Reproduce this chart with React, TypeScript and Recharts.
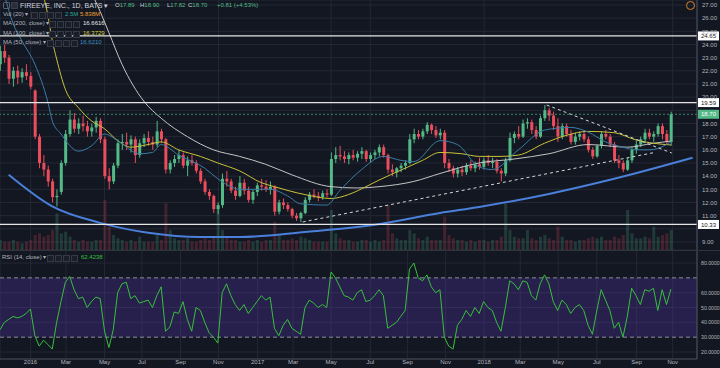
import React from 'react';
import { ComposedChart, Bar, Line, XAxis, YAxis, CartesianGrid, ReferenceLine, ReferenceArea } from 'recharts';

// weekly candles from the week of 2015-11-16: [open, high, low, close]
const candles: number[][] = [
  [22.5, 23.9, 22.0, 23.5], [23.5, 24.0, 22.6, 23.0], [23.0, 23.2, 21.0, 21.4], [21.4, 22.3, 20.8, 22.0],
  [22.0, 22.4, 21.0, 21.5], [21.5, 22.2, 21.1, 21.9], [21.9, 22.5, 21.3, 21.6], [21.6, 21.9, 20.6, 20.8],
  [20.5, 20.6, 16.8, 17.0], [17.0, 17.2, 14.6, 15.0], [15.0, 15.6, 14.0, 14.5], [14.5, 14.8, 13.2, 13.6],
  [13.6, 13.8, 12.0, 12.4], [12.4, 13.0, 11.7, 12.5], [12.8, 15.2, 12.6, 15.0], [15.0, 17.5, 14.8, 17.2],
  [17.2, 19.0, 17.0, 18.3], [18.3, 18.8, 17.3, 17.6], [17.6, 18.4, 17.2, 18.0], [18.0, 18.6, 17.4, 17.8],
  [17.8, 18.2, 17.0, 17.4], [17.4, 18.0, 17.0, 17.7], [17.7, 18.5, 17.3, 18.2], [18.2, 18.4, 16.5, 16.8],
  [16.8, 17.0, 13.8, 14.0], [14.0, 14.6, 13.0, 13.6], [13.6, 15.0, 13.4, 14.8], [14.8, 16.8, 14.6, 16.5],
  [16.5, 17.2, 16.0, 16.6], [16.6, 17.3, 16.0, 16.4], [16.4, 17.1, 15.8, 16.8], [16.8, 17.0, 15.0, 15.6],
  [15.6, 16.8, 15.4, 16.5], [16.5, 17.2, 16.2, 16.9], [16.9, 17.4, 16.3, 16.6], [16.6, 17.0, 16.0, 16.4],
  [16.4, 18.2, 16.2, 17.4], [17.4, 17.6, 16.5, 16.8], [16.8, 16.9, 14.2, 14.5], [14.5, 15.2, 14.2, 15.0],
  [15.0, 15.6, 14.7, 15.3], [15.3, 16.0, 15.0, 15.6], [15.6, 15.8, 14.6, 14.8], [14.8, 15.5, 14.0, 15.2],
  [15.2, 15.6, 14.8, 15.0], [15.0, 15.2, 14.2, 14.4], [14.4, 14.6, 13.4, 13.6], [13.6, 13.8, 12.6, 12.8],
  [12.8, 13.0, 12.2, 12.5], [12.5, 12.6, 11.2, 11.5], [11.5, 12.0, 11.1, 11.8], [11.8, 14.2, 11.6, 13.8],
  [13.8, 14.4, 13.2, 13.6], [13.6, 13.8, 12.7, 12.9], [12.9, 13.2, 12.2, 12.5], [12.5, 14.0, 12.4, 13.5],
  [13.5, 13.8, 12.6, 12.9], [12.9, 13.2, 12.0, 12.2], [12.2, 13.0, 11.9, 12.8], [12.8, 13.5, 12.5, 13.3],
  [13.3, 13.8, 12.9, 13.2], [13.2, 13.7, 12.8, 13.0], [13.0, 13.6, 12.6, 13.2], [13.2, 13.3, 11.0, 11.3],
  [11.3, 12.2, 11.1, 12.0], [12.0, 12.3, 11.5, 11.8], [11.8, 12.0, 11.3, 11.5], [11.5, 11.6, 10.8, 11.0],
  [11.0, 11.2, 10.6, 10.8], [10.8, 11.3, 10.5, 11.2], [11.2, 12.4, 11.1, 12.2], [12.2, 12.8, 12.0, 12.6],
  [12.6, 13.0, 12.3, 12.5], [12.5, 12.8, 12.1, 12.4], [12.4, 12.9, 12.2, 12.7], [12.7, 13.0, 12.4, 12.6],
  [12.6, 15.8, 12.5, 15.3], [15.3, 16.2, 15.0, 15.6], [15.6, 16.3, 15.2, 15.5], [15.5, 15.9, 15.0, 15.3],
  [15.3, 15.8, 14.9, 15.6], [15.6, 16.0, 15.2, 15.4], [15.4, 15.9, 15.1, 15.7], [15.7, 16.2, 15.3, 15.9],
  [15.9, 16.0, 15.1, 15.3], [15.3, 15.8, 15.0, 15.6], [15.6, 16.0, 15.3, 15.8], [15.8, 16.4, 15.5, 16.2],
  [16.2, 16.4, 15.4, 15.6], [15.6, 15.7, 14.2, 14.5], [14.5, 14.9, 14.0, 14.3], [14.3, 14.7, 13.9, 14.6],
  [14.6, 15.0, 14.3, 14.8], [14.8, 15.2, 14.5, 15.0], [15.0, 17.2, 14.9, 16.8], [16.8, 17.6, 16.5, 17.2],
  [17.2, 17.5, 16.8, 17.0], [17.0, 17.6, 16.8, 17.4], [17.4, 18.1, 17.2, 17.9], [17.9, 18.0, 17.2, 17.5],
  [17.5, 17.8, 16.9, 17.1], [17.1, 17.6, 16.8, 17.3], [17.3, 17.5, 14.6, 15.0], [15.0, 15.3, 14.3, 14.6],
  [14.6, 14.8, 13.9, 14.2], [14.2, 14.7, 13.9, 14.5], [14.5, 14.8, 14.0, 14.3], [14.3, 15.0, 14.1, 14.8],
  [14.8, 15.2, 14.4, 14.6], [14.6, 15.1, 14.3, 14.9], [14.9, 15.4, 14.5, 14.7], [14.7, 15.4, 14.5, 15.2],
  [15.2, 15.6, 14.8, 15.0], [15.0, 15.4, 14.6, 15.1], [15.1, 15.3, 14.2, 14.4], [14.4, 14.6, 13.6, 14.2],
  [14.2, 15.4, 14.0, 15.2], [15.2, 17.3, 15.1, 16.9], [16.9, 17.4, 16.5, 17.2], [17.2, 17.8, 16.8, 17.0],
  [17.0, 18.3, 16.9, 18.0], [18.0, 18.4, 17.6, 18.1], [18.1, 18.3, 17.2, 17.5], [17.5, 17.8, 16.8, 17.0],
  [17.0, 18.6, 16.9, 18.4], [18.4, 19.4, 18.2, 19.0], [19.0, 19.2, 18.2, 18.6], [18.6, 18.9, 17.5, 17.8],
  [17.8, 18.4, 16.6, 17.0], [17.0, 18.0, 16.8, 17.8], [17.8, 18.0, 17.0, 17.2], [17.2, 17.5, 16.4, 16.6],
  [16.6, 17.3, 16.4, 17.0], [17.0, 17.4, 16.7, 17.2], [17.2, 17.5, 16.6, 16.8], [16.8, 17.0, 15.8, 16.0],
  [16.0, 16.2, 15.3, 15.5], [15.5, 16.4, 15.4, 16.3], [16.3, 17.4, 16.1, 17.2], [17.2, 17.5, 16.8, 17.0],
  [17.0, 17.2, 16.2, 16.4], [16.4, 16.6, 15.0, 15.2], [15.2, 15.6, 14.6, 15.0], [15.0, 15.2, 14.3, 14.5],
  [14.5, 15.4, 14.4, 15.2], [15.2, 16.2, 15.0, 16.0], [16.0, 16.7, 15.7, 16.4], [16.4, 17.0, 16.2, 16.8],
  [16.8, 17.6, 16.5, 17.3], [17.3, 17.6, 16.8, 17.0], [17.0, 17.4, 16.6, 17.2], [17.2, 18.0, 17.0, 17.8],
  [17.8, 18.0, 16.8, 17.2], [17.2, 17.5, 16.4, 16.6], [16.6, 18.9, 16.3, 18.7],
];

// weekly volume, millions
const volume = [
  6, 5, 5, 6, 5, 4, 5, 6, 9, 10, 8, 9, 12, 22, 10, 11,
  8, 6, 5, 6, 5, 5, 6, 6, 30, 14, 9, 7, 6, 5, 6, 5,
  8, 5, 5, 5, 9, 6, 28, 12, 7, 6, 6, 7, 5, 5, 6, 7,
  6, 8, 26, 12, 8, 6, 6, 5, 5, 6, 5, 6, 5, 6, 6, 17,
  9, 6, 6, 7, 6, 8, 7, 6, 5, 5, 5, 5, 24, 10, 7, 6,
  6, 5, 5, 6, 6, 5, 6, 5, 6, 27, 10, 7, 6, 6, 12, 10,
  7, 6, 8, 6, 6, 6, 20, 9, 7, 6, 6, 5, 6, 5, 6, 6,
  5, 6, 6, 8, 28, 12, 8, 7, 7, 12, 7, 6, 8, 9, 7, 6,
  14, 8, 6, 6, 5, 6, 6, 7, 8, 7, 8, 6, 6, 8, 7, 9,
  24, 10, 7, 7, 8, 7, 14, 8, 9, 10, 12,
];

// weekly RSI(14)
const rsi = [
  35, 40, 42, 44, 43, 44, 46, 49, 31, 24, 28, 25, 22, 40, 54, 67,
  71, 62, 56, 57, 50, 54, 57, 56, 34, 23, 35, 60, 66, 67, 56, 58,
  53, 54, 55, 50, 58, 64, 34, 37, 47, 46, 54, 42, 34, 50, 48, 40,
  33, 30, 26, 60, 66, 58, 52, 48, 52, 46, 50, 54, 58, 55, 57, 36,
  31, 38, 42, 36, 34, 32, 50, 55, 53, 50, 52, 50, 74, 70, 64, 58,
  57, 55, 60, 62, 54, 55, 58, 62, 58, 36, 38, 40, 44, 48, 76, 80,
  70, 68, 72, 64, 60, 62, 30, 24, 22, 38, 42, 48, 44, 50, 46, 54,
  50, 48, 40, 34, 50, 68, 66, 62, 68, 67, 58, 55, 66, 72, 66, 54,
  48, 55, 52, 46, 50, 52, 48, 38, 32, 48, 62, 55, 48, 36, 40, 30,
  44, 63, 58, 52, 62, 61, 63, 48, 62, 52, 62.42,
];

// moving averages and the drawn arc, [week, value]
const ma200: number[][] = [
  [20, 28.6], [23, 26.5], [25, 24.9], [28, 22.5], [33, 19.7], [37, 18.4], [43, 17.0], [49, 16.0],
  [55, 15.5], [61, 14.9], [67, 14.1], [76, 13.2], [82, 13.1], [87, 13.2], [95, 13.6], [101, 14.2],
  [110, 15.0], [118, 15.3], [126, 15.7], [135, 16.4], [144, 16.2], [150, 16.5], [154, 16.66],
];
const ma100: number[][] = [
  [9, 28.8], [11, 26.2], [12, 24.3], [13, 22.9], [15, 20.6], [18, 19.2], [21, 18.2], [24, 17.6],
  [27, 16.7], [30, 16.2], [34, 16.4], [37, 16.6], [41, 16.0], [46, 15.5], [50, 15.0], [55, 14.4],
  [60, 13.5], [63, 13.2], [70, 12.6], [76, 12.3], [80, 12.6], [84, 13.2], [87, 13.7], [93, 14.6],
  [97, 15.2], [101, 15.8], [106, 15.7], [110, 15.5], [115, 15.5], [119, 15.6], [125, 16.5], [130, 17.1],
  [135, 17.4], [141, 17.3], [146, 16.75], [150, 16.5], [154, 16.37],
];
const ma50: number[][] = [
  [1, 27.8], [3, 25.6], [5, 24.3], [8, 22.5], [11, 19.6], [12, 18.2], [14, 17.2], [18, 15.9],
  [21, 16.3], [24, 17.2], [27, 16.7], [32, 15.7], [35, 15.8], [37, 16.4], [41, 15.6], [47, 14.6],
  [50, 13.8], [53, 13.2], [55, 13.0], [62, 13.0], [66, 12.5], [69, 11.9], [75, 11.8], [78, 12.9],
  [83, 14.5], [88, 15.5], [92, 15.2], [95, 15.1], [101, 16.7], [105, 16.4], [110, 14.7], [113, 14.5],
  [119, 16.0], [125, 17.5], [131, 17.7], [135, 17.35], [139, 16.6], [143, 16.2], [146, 16.0], [149, 16.0],
  [153, 16.4], [154, 16.62],
];
const arc: number[][] = [
  [2, 14.1], [12, 11.7], [23, 10.45], [34, 9.7], [46, 9.38], [55, 9.38], [70, 9.76], [86, 10.3],
  [101, 11.2], [110, 11.66], [126, 12.65], [141, 13.8], [159, 15.4],
];

const supportLine = [[69.5, 10.52], [150.3, 15.8]];
const resistanceLine = [[125.5, 19.4], [154.2, 15.76]];
const levels = [24.65, 19.59, 10.33];
const lastClose = 18.7;

const monthDates = [
  '2016-01-04', '2016-03-01', '2016-05-02', '2016-07-01', '2016-09-01', '2016-11-01',
  '2017-01-03', '2017-03-01', '2017-05-01', '2017-07-03', '2017-09-01', '2017-11-01',
  '2018-01-02', '2018-03-01', '2018-05-01', '2018-07-02', '2018-09-04', '2018-11-01',
];
const monthLabels = ['2016', 'Mar', 'May', 'Jul', 'Sep', 'Nov', '2017', 'Mar', 'May', 'Jul', 'Sep', 'Nov', '2018', 'Mar', 'May', 'Jul', 'Sep', 'Nov'];

const START = Date.UTC(2015, 10, 16);
const toWeek = (d: string) => (Date.parse(d) - START) / (7 * 86400000);
const monthTicks = monthDates.map(toWeek);
const labelOf = (w: number) => monthLabels[monthTicks.findIndex((t) => Math.abs(t - w) < 0.01)] ?? '';

const N_WEEKS = 160;
const X_DOMAIN: [number, number] = [0, 160];
const priceTicks = [9, 10, 11, 12, 13, 14, 15, 16, 17, 18, 19, 20, 21, 22, 23, 24, 25, 26, 27];
const rsiTicks = [20, 30, 40, 50, 60, 80];

const BG = '#131722';
const GRID = '#242834';
const AXIS_TXT = '#b2b5be';
const UP = '#53b987';
const DOWN = '#eb4d5c';

const fromPairs = (pairs: number[][]) => {
  const m: Record<number, number> = {};
  pairs.forEach(([w, v]) => (m[w] = v));
  return m;
};
const m200 = fromPairs(ma200);
const m100 = fromPairs(ma100);
const m50 = fromPairs(ma50);
const mArc = fromPairs(arc);

const rows = Array.from({ length: N_WEEKS }, (_, w) => {
  const c = candles[w];
  return {
    w,
    range: c ? [c[2], c[1]] : undefined,
    o: c ? c[0] : undefined,
    h: c ? c[1] : undefined,
    l: c ? c[2] : undefined,
    c: c ? c[3] : undefined,
    vol: c ? volume[w] : undefined,
    ma200: m200[w],
    ma100: m100[w],
    ma50: m50[w],
    arc: mArc[w],
    rsi: rsi[w],
  };
});

const Candle = (props: any) => {
  const { x, y, width, height, payload } = props;
  if (!payload || payload.o == null) return null;
  const { o, h, l, c } = payload;
  const color = c >= o ? UP : DOWN;
  const top = Math.min(y, y + height);
  const hh = Math.abs(height);
  const span = h - l || 1;
  const py = (v: number) => top + ((h - v) / span) * hh;
  const bTop = py(Math.max(o, c));
  const bBot = py(Math.min(o, c));
  const cx = x + width / 2;
  return (
    <g>
      <line x1={cx} x2={cx} y1={top} y2={top + hh} stroke={color} strokeWidth={1} />
      <rect x={x} y={bTop} width={width} height={Math.max(1, bBot - bTop)} fill={color} />
    </g>
  );
};

const VolBar = (props: any) => {
  const { x, y, width, height, payload } = props;
  if (!payload || payload.o == null) return null;
  const color = payload.c >= payload.o ? UP : DOWN;
  return <rect x={x} y={Math.min(y, y + height)} width={width} height={Math.abs(height)} fill={color} fillOpacity={0.22} />;
};

const PriceTick = (props: any) => {
  const { x, y, payload } = props;
  if (payload.value === 10 || payload.value === 19) return <g />;
  return (
    <text x={x} y={y} dy={2.2} fontSize={6} fill={AXIS_TXT} textAnchor="start">
      {payload.value.toFixed(2)}
    </text>
  );
};

const RsiTick = (props: any) => {
  const { x, y, payload } = props;
  return (
    <text x={x} y={y} dy={2} fontSize={5.2} fill={AXIS_TXT} textAnchor="start">
      {payload.value.toFixed(4)}
    </text>
  );
};

const tag = (text: string, bg: string, fg: string) => (props: any) => {
  const vb = props.viewBox || {};
  const x = (vb.x ?? 0) + (vb.width ?? 0);
  const y = vb.y ?? 0;
  return (
    <g>
      <rect x={x + 1} y={y - 4.5} width={21} height={9} fill={bg} />
      <text x={x + 11.5} y={y + 2.2} fontSize={6} fill={fg} textAnchor="middle">{text}</text>
    </g>
  );
};

const Txt = ({ x, y, color, size = 6, children }: any) => (
  <span style={{ position: 'absolute', left: x, top: y, color, fontSize: size, lineHeight: `${size + 1}px`, whiteSpace: 'nowrap' }}>
    {children}
  </span>
);

const Icons = ({ x, y }: { x: number; y: number }) => (
  <>
    {[0, 1, 2, 3].map((i) => (
      <span
        key={i}
        style={{ position: 'absolute', left: x + i * 8, top: y, width: 5, height: 5, border: '1px solid #363a46', background: '#1a1e29' }}
      />
    ))}
  </>
);

export default function App() {
  const font = '"Liberation Sans", Arial, sans-serif';
  return (
    <div style={{ position: 'absolute', left: 0, top: 0, width: 720, height: 368, background: BG, overflow: 'hidden', fontFamily: font }}>
      <ComposedChart width={720} height={250} data={rows} margin={{ top: 0, right: 0, bottom: 0, left: 0 }}>
        <CartesianGrid stroke={GRID} strokeWidth={1} yAxisId="price" />
        <XAxis type="number" dataKey="w" domain={X_DOMAIN} ticks={monthTicks} hide allowDataOverflow />
        <XAxis xAxisId="vx" type="number" dataKey="w" domain={X_DOMAIN} hide allowDataOverflow />
        <YAxis
          yAxisId="price"
          orientation="right"
          width={23}
          domain={[8.39, 27.38]}
          ticks={priceTicks}
          allowDataOverflow
          tick={<PriceTick />}
          tickLine={false}
          tickSize={3}
          axisLine={{ stroke: '#4c525e' }}
          interval={0}
        />
        <YAxis yAxisId="vol" hide domain={[0, 150]} />
        <Bar xAxisId="vx" yAxisId="vol" dataKey="vol" barSize={3} shape={<VolBar />} isAnimationActive={false} />
        <Bar yAxisId="price" dataKey="range" barSize={3} shape={<Candle />} isAnimationActive={false} />
        <Line yAxisId="price" dataKey="ma200" type="monotone" connectNulls dot={false} stroke="#c4c4c4" strokeWidth={1} isAnimationActive={false} />
        <Line yAxisId="price" dataKey="ma100" type="monotone" connectNulls dot={false} stroke="#c9c23a" strokeWidth={1} isAnimationActive={false} />
        <Line yAxisId="price" dataKey="ma50" type="monotone" connectNulls dot={false} stroke="#3a7ca5" strokeWidth={1} isAnimationActive={false} />
        <Line yAxisId="price" dataKey="arc" type="monotone" connectNulls dot={false} stroke="#4a7fda" strokeWidth={2} isAnimationActive={false} />
        <ReferenceLine
          yAxisId="price"
          segment={supportLine.map(([x, y]) => ({ x, y }))}
          stroke="#d8d8d8"
          strokeDasharray="3 3"
        />
        <ReferenceLine
          yAxisId="price"
          segment={resistanceLine.map(([x, y]) => ({ x, y }))}
          stroke="#d8d8d8"
          strokeDasharray="3 3"
        />
        <ReferenceLine yAxisId="price" y={lastClose} stroke={UP} strokeDasharray="2 2" strokeOpacity={0.7} label={{ content: tag('18.70', UP, '#ffffff') }} />
        {levels.map((v) => (
          <ReferenceLine key={v} yAxisId="price" y={v} stroke="#e6e6e6" strokeWidth={1.2} label={{ content: tag(v.toFixed(2), '#ffffff', '#131722') }} />
        ))}
      </ComposedChart>

      <div style={{ position: 'absolute', left: 0, top: 250, width: 720, height: 1, background: '#2f333e' }} />

      <div style={{ position: 'absolute', left: 0, top: 250 }}>
        <ComposedChart width={720} height={118} data={rows} margin={{ top: 1, right: 0, bottom: 0, left: 0 }}>
          <CartesianGrid stroke={GRID} horizontalValues={[20, 40, 50, 60, 80]} />
          <XAxis
            type="number"
            dataKey="w"
            domain={X_DOMAIN}
            ticks={monthTicks}
            tickFormatter={labelOf}
            allowDataOverflow
            height={9}
            tickSize={0}
            tickMargin={1}
            tick={{ fontSize: 6, fill: AXIS_TXT }}
            axisLine={{ stroke: '#4c525e' }}
            interval={0}
          />
          <YAxis
            orientation="right"
            width={23}
            domain={[15.3, 88.1]}
            ticks={rsiTicks}
            allowDataOverflow
            tick={<RsiTick />}
            tickLine={false}
            tickSize={2}
            axisLine={{ stroke: '#4c525e' }}
            interval={0}
          />
          <ReferenceArea y1={30} y2={70} fill="#5a36b0" fillOpacity={0.3} stroke="none" />
          <ReferenceLine y={70} stroke="#8a8d96" strokeDasharray="4 3" />
          <ReferenceLine y={30} stroke="#8a8d96" strokeDasharray="4 3" />
          <Line dataKey="rsi" type="linear" dot={false} stroke="#36c03c" strokeWidth={1} isAnimationActive={false} />
        </ComposedChart>
      </div>

      <span style={{ position: 'absolute', left: 3, top: 2, width: 5, height: 5, border: '1px solid #5d606b', borderRadius: 1 }} />
      <span style={{ position: 'absolute', left: 11, top: 2, width: 5, height: 5, border: '1px solid #3a3e4a', background: '#2a2e39' }} />
      <Txt x={20} y={1.5} color="#d1d4dc" size={7}>FIREEYE, INC., 1D, BATS ▾</Txt>
      <Txt x={115} y={2} color="#d1d4dc">O<span style={{ color: UP }}>17.89</span></Txt>
      <Txt x={140} y={2} color="#d1d4dc">H<span style={{ color: UP }}>18.90</span></Txt>
      <Txt x={167} y={2} color="#d1d4dc">L<span style={{ color: UP }}>17.82</span></Txt>
      <Txt x={188} y={2} color="#d1d4dc">C<span style={{ color: UP }}>18.70</span></Txt>
      <Txt x={217} y={2} color={UP}>+0.81 (+4.53%)</Txt>

      <Txt x={3} y={10.5} color={AXIS_TXT}>Vol (20) ▾</Txt>
      <Icons x={31} y={11.5} />
      <Txt x={65} y={10.5} color="#2fa79a">2.5M</Txt>
      <Txt x={80} y={10.5} color="#f0a032">5.838M</Txt>

      <Txt x={3} y={20} color={AXIS_TXT}>MA (200, close) ▾</Txt>
      <Icons x={49} y={21} />
      <Txt x={83} y={20} color="#e6e6e6">16.6616</Txt>

      <Txt x={3} y={29.5} color={AXIS_TXT}>MA (100, close) ▾</Txt>
      <Icons x={49} y={30.5} />
      <Txt x={83} y={29.5} color="#d8d040">16.3729</Txt>

      <Txt x={3} y={38.5} color={AXIS_TXT}>MA (50, close) ▾</Txt>
      <Icons x={47} y={39.5} />
      <Txt x={80} y={38.5} color="#3f8fc0">16.6210</Txt>

      <Txt x={2} y={253.5} color={AXIS_TXT}>RSI (14, close) ▾</Txt>
      <Icons x={47} y={254.5} />
      <Txt x={81} y={253.5} color="#36c03c">62.4238</Txt>

      <span style={{ position: 'absolute', left: 686, top: 1, width: 7, height: 7, borderRadius: 5, border: '1px solid #e0802a' }} />
    </div>
  );
}
